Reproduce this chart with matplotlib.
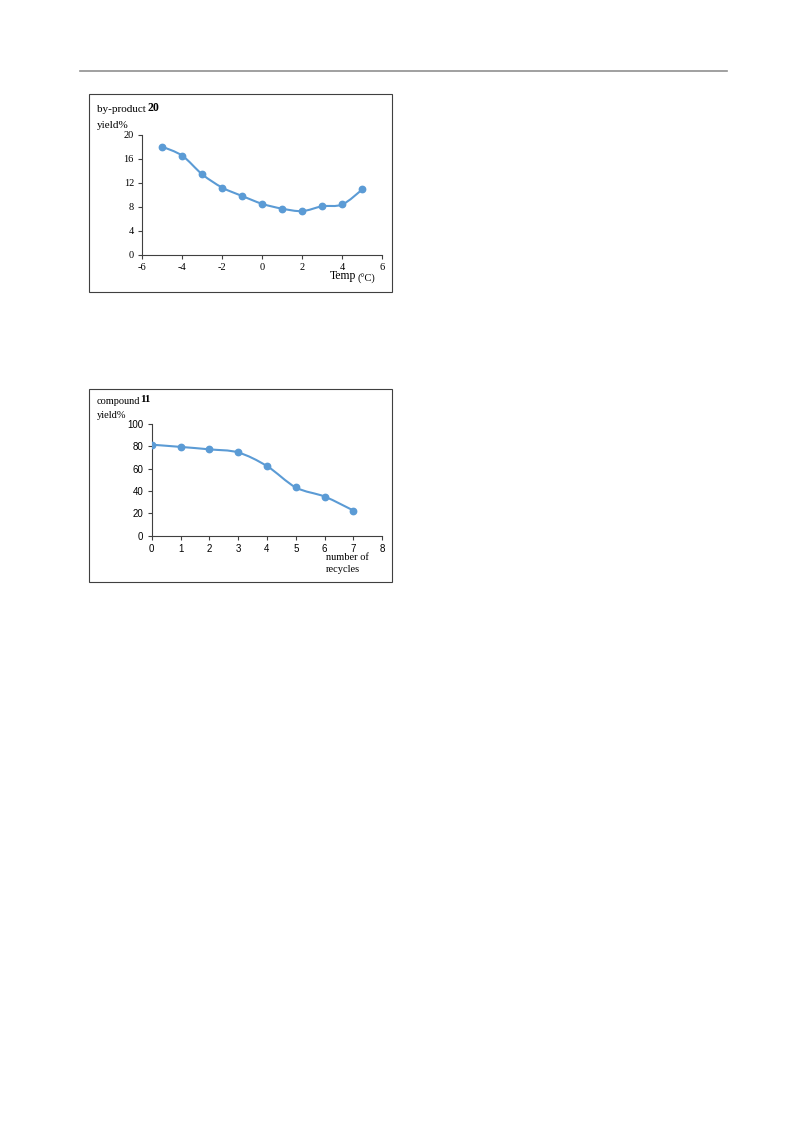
import matplotlib
matplotlib.use("Agg")
import matplotlib.pyplot as plt
from matplotlib.path import Path
from matplotlib.patches import PathPatch, Rectangle
import numpy as np

plt.rcParams['axes.unicode_minus'] = False

# data
temp = [-5, -4, -3, -2, -1, 0, 1, 2, 3, 4, 5]
byproduct = [18.0, 16.5, 13.4, 11.2, 9.8, 8.5, 7.7, 7.3, 8.1, 8.4, 10.9]
recycles = [0, 1, 2, 3, 4, 5, 6, 7]
compound = [81.5, 79.5, 77.3, 74.5, 62.3, 43.2, 35.0, 22.5]

W, H = 793, 1121
blue = '#5B9BD5'
serif = 'Liberation Serif'
sans = 'Liberation Sans'

fig = plt.figure(figsize=(W / 100, H / 100), dpi=100)


def fx(px):
    return px / W


def fy(py):
    return 1 - py / H


def smooth(ax, xs, ys):
    # excel-like smoothed line as bezier path
    xs = np.asarray(xs, float)
    ys = np.asarray(ys, float)
    n = len(xs)
    verts = [(xs[0], ys[0])]
    codes = [Path.MOVETO]
    t = 1 / 6
    for i in range(n - 1):
        p0 = i - 1 if i > 0 else i
        p3 = i + 2 if i + 2 < n else i + 1
        c1 = (xs[i] + (xs[i + 1] - xs[p0]) * t, ys[i] + (ys[i + 1] - ys[p0]) * t)
        c2 = (xs[i + 1] - (xs[p3] - xs[i]) * t, ys[i + 1] - (ys[p3] - ys[i]) * t)
        verts += [c1, c2, (xs[i + 1], ys[i + 1])]
        codes += [Path.CURVE4] * 3
    ax.add_patch(PathPatch(Path(verts, codes), fill=False, ec=blue, lw=1.5))
    ax.plot(xs, ys, 'o', color=blue, ms=4.6, zorder=3)


def style(ax, font, size):
    for s in ['top', 'right']:
        ax.spines[s].set_visible(False)
    for s in ['left', 'bottom']:
        ax.spines[s].set_color('#404040')
        ax.spines[s].set_linewidth(0.8)
    ax.tick_params(direction='out', length=3, width=0.8, color='#404040',
                   labelsize=size, pad=3)
    for lab in ax.get_xticklabels() + ax.get_yticklabels():
        lab.set_fontfamily(font)


# header rule
fig.add_artist(plt.Line2D([fx(80), fx(727)], [fy(71), fy(71)], color='#909090', lw=1.2))

# ---- chart 1 ----
fig.add_artist(Rectangle((fx(89), fy(292)), fx(392) - fx(89), fy(94) - fy(292),
                         fill=False, ec='#404040', lw=0.8))
ax1 = fig.add_axes([fx(142.3), fy(255), fx(382.3) - fx(142.3), fy(134.7) - fy(255)])
smooth(ax1, temp, byproduct)
ax1.set_xlim(-6, 6)
ax1.set_ylim(0, 20)
ax1.set_xticks(range(-6, 7, 2))
ax1.set_yticks(range(0, 21, 4))
style(ax1, serif, 7.5)
fig.text(fx(97), fy(110), 'by-product', family=serif, fontsize=8, va='center')
fig.text(fx(147), fy(108), '20', family=serif, fontsize=8.5, weight='bold', va='center')
fig.text(fx(97), fy(125), 'yield%', family=serif, fontsize=8, va='center')
fig.text(fx(330), fy(276.5), 'Temp', family=serif, fontsize=8.5, va='center')
fig.text(fx(358), fy(279), '(°C)', family=serif, fontsize=7.5, va='center')

# ---- chart 2 ----
fig.add_artist(Rectangle((fx(89), fy(582)), fx(392) - fx(89), fy(389) - fy(582),
                         fill=False, ec='#404040', lw=0.8))
ax2 = fig.add_axes([fx(151.7), fy(535.7), fx(382.3) - fx(151.7), fy(424) - fy(535.7)])
smooth(ax2, recycles, compound)
ax2.set_xlim(0, 8)
ax2.set_ylim(0, 100)
ax2.set_xticks(range(0, 9))
ax2.set_yticks(range(0, 101, 20))
style(ax2, sans, 7)
fig.text(fx(97), fy(402), 'compound', family=serif, fontsize=7.5, va='center')
fig.text(fx(140), fy(400), '11', family=serif, fontsize=8, weight='bold', va='center')
fig.text(fx(97), fy(416), 'yield%', family=serif, fontsize=7.5, va='center')
fig.text(fx(326), fy(557.5), 'number of', family=serif, fontsize=7.5, va='center')
fig.text(fx(326), fy(570), 'recycles', family=serif, fontsize=7.5, va='center')

fig.savefig('out.png', dpi=100)
